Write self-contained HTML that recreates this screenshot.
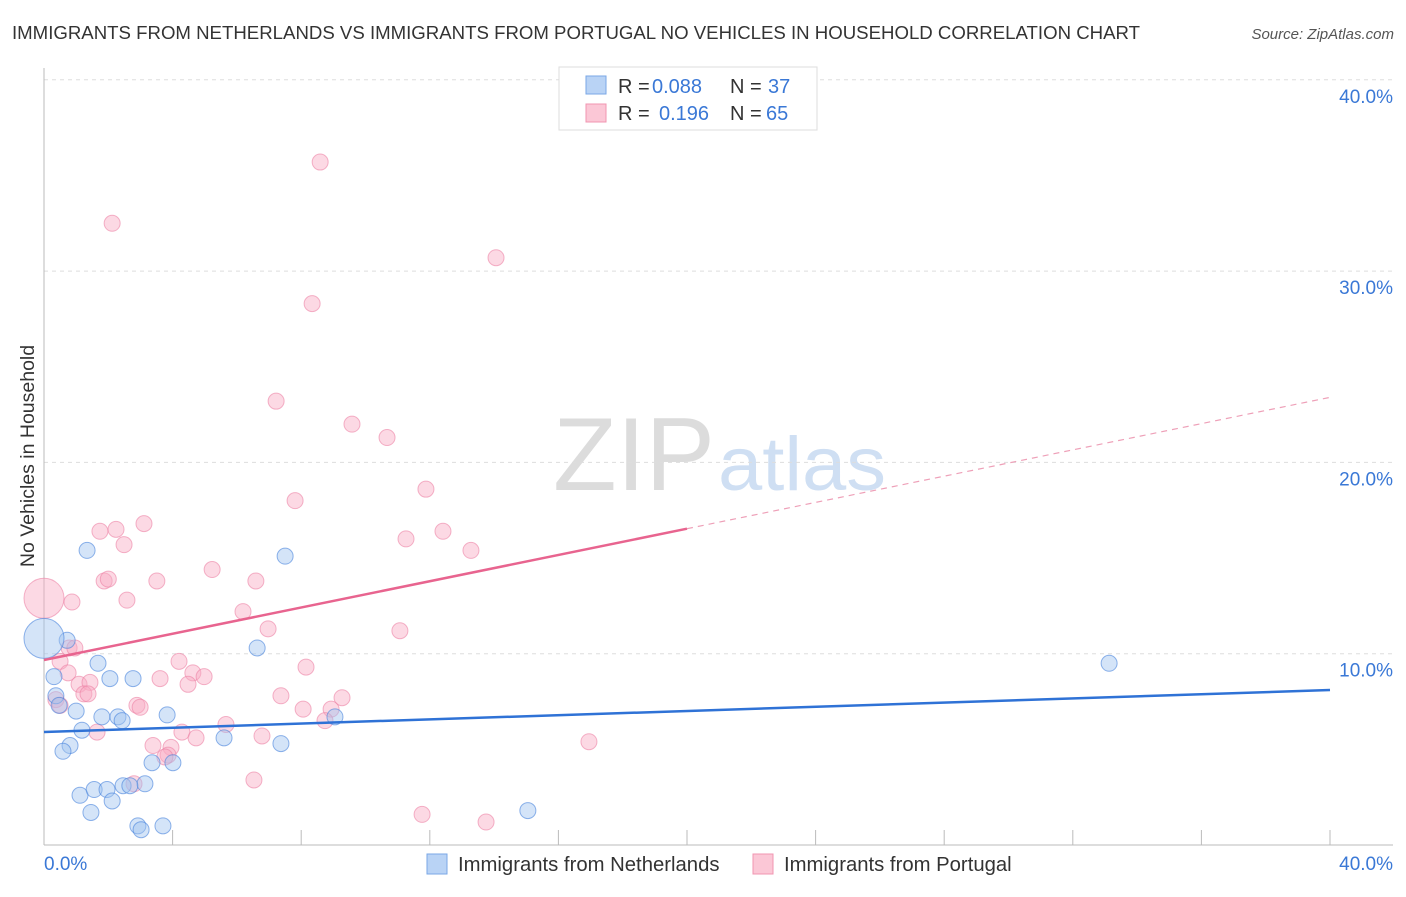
<!DOCTYPE html>
<html><head><meta charset="utf-8"><style>
body{margin:0;background:#fff;font-family:"Liberation Sans",sans-serif;}
svg text{font-family:"Liberation Sans",sans-serif;}
</style></head><body>
<svg id="chart" width="1406" height="892">
<text x="12" y="39" font-size="18" fill="#333" textLength="1128" lengthAdjust="spacingAndGlyphs">IMMIGRANTS FROM NETHERLANDS VS IMMIGRANTS FROM PORTUGAL NO VEHICLES IN HOUSEHOLD CORRELATION CHART</text>
<text x="1394" y="39" font-size="15" fill="#555" font-style="italic" text-anchor="end">Source: ZipAtlas.com</text>
<text x="553" y="490" font-size="104" fill="#dcdcdc" font-family="Liberation Serif" textLength="162" lengthAdjust="spacingAndGlyphs">ZIP</text>
<text x="718" y="490" font-size="76" fill="#cfdff3" textLength="168" lengthAdjust="spacingAndGlyphs">atlas</text>
<text x="34" y="456" font-size="19.5" fill="#333" text-anchor="middle" transform="rotate(-90 34 456)">No Vehicles in Household</text>
<g id="grid"></g><g id="pts"></g><g id="lines"></g>
<g>
<rect x="559" y="67" width="258" height="63" fill="#fff" stroke="#ddd"/>
<rect x="586" y="76" width="20" height="18" fill="#b9d3f5" stroke="#7aa7e6"/>
<rect x="586" y="104" width="20" height="18" fill="#fbc7d6" stroke="#f095b0"/>
<text x="618" y="93" font-size="20" fill="#333">R =</text>
<text x="652" y="93" font-size="20" fill="#3a78d6">0.088</text>
<text x="730" y="93" font-size="20" fill="#333">N =</text>
<text x="768" y="93" font-size="20" fill="#3a78d6">37</text>
<text x="618" y="120" font-size="20" fill="#333">R =</text>
<text x="659" y="120" font-size="20" fill="#3a78d6">0.196</text>
<text x="730" y="120" font-size="20" fill="#333">N =</text>
<text x="766" y="120" font-size="20" fill="#3a78d6">65</text>
</g>
<g>
<rect x="427" y="854" width="20" height="20" fill="#b9d3f5" stroke="#7aa7e6"/>
<text x="458" y="871" font-size="20.3" fill="#333">Immigrants from Netherlands</text>
<rect x="753" y="854" width="20" height="20" fill="#fbc7d6" stroke="#f095b0"/>
<text x="784" y="871" font-size="20.3" fill="#333">Immigrants from Portugal</text>
</g>
</svg>
<script>
const yTicks=[10,20,30,40];
const xTickLabels=["0.0%","40.0%"];
const nlX=[1.34,7.50,0.72,0,1.68,2.05,2.77,0.31,0.37,0.47,1.0,1.80,2.30,2.43,3.83,6.63,9.05,5.60,7.37,1.18,0.81,0.59,3.36,4.01,1.12,1.56,1.96,2.46,3.14,2.12,1.46,2.92,3.02,3.70,33.13,15.05,2.67];
const nlY=[15.4,15.1,10.7,10.8,9.5,8.7,8.7,8.8,7.8,7.3,7.0,6.7,6.7,6.5,6.8,10.3,6.7,5.6,5.3,6.0,5.2,4.9,4.3,4.3,2.6,2.9,2.9,3.1,3.2,2.3,1.7,1.0,0.8,1.0,9.5,1.8,3.1];
const nlR=[8,8,8,20,8,8,8,8,8,8,8,8,8,8,8,8,8,8,8,8,8,8,8,8,8,8,8,8,8,8,8,8,8,8,8,8,8];
const ptX=[0,0.87,0.78,0.96,0.5,0.75,1.09,1.43,0.37,0.5,1.24,1.37,1.65,1.74,2.24,3.11,2.49,1.87,2.0,2.58,3.51,2.12,8.59,14.06,8.34,7.22,9.58,10.67,11.88,7.81,11.26,12.41,13.28,5.23,6.59,6.19,6.97,11.07,4.2,8.15,4.63,4.98,3.61,4.48,7.37,8.06,9.27,8.93,2.89,2.99,5.66,4.29,4.73,6.78,8.74,3.39,3.95,3.86,3.76,6.53,2.8,16.95,11.76,13.75];
const ptY=[12.9,12.7,10.3,10.3,9.6,9.0,8.4,8.5,7.6,7.3,7.9,7.9,5.9,16.4,16.5,16.8,15.7,13.8,13.9,12.8,13.8,32.5,35.7,30.7,28.3,23.2,22.0,21.3,18.6,18.0,16.0,16.4,15.4,14.4,13.8,12.2,11.3,11.2,9.6,9.3,9.0,8.8,8.7,8.4,7.8,7.1,7.7,7.1,7.3,7.2,6.3,5.9,5.6,5.7,6.5,5.2,5.1,4.7,4.6,3.4,3.2,5.4,1.6,1.2];
const ptR=[20,8,8,8,8,8,8,8,8,8,8,8,8,8,8,8,8,8,8,8,8,8,8,8,8,8,8,8,8,8,8,8,8,8,8,8,8,8,8,8,8,8,8,8,8,8,8,8,8,8,8,8,8,8,8,8,8,8,8,8,8,8,8,8];
const nlTrend=[5.91,8.10];
const ptTrend=[9.67,23.4];
const X=v=>44+v/40*1286, Y=v=>845-v*19.13;
const NS="http://www.w3.org/2000/svg";
function mk(tag,attrs,parent){const e=document.createElementNS(NS,tag);for(const k in attrs)e.setAttribute(k,attrs[k]);parent.appendChild(e);return e;}
const grid=document.getElementById('grid');
yTicks.forEach(t=>{
 const l=mk('line',{x1:44,x2:1393,y1:Y(t),y2:Y(t),stroke:'#ddd','stroke-dasharray':'4,4'},grid);
 
 
 const tx=mk('text',{x:1393,y:Y(t)+23,'font-size':19,fill:'#3a78d6','text-anchor':'end'},grid);
 tx.textContent=t.toFixed(1)+'%';
 
 
});
const ax=mk('line',{x1:44,x2:44,y1:68,y2:845,stroke:'#bbb'},grid);


const bx=mk('line',{x1:44,x2:1393,y1:845,y2:845,stroke:'#bbb'},grid);


for(let i=0;i<=10;i++){const v=i*4;const t=mk('line',{x1:X(v),x2:X(v),y1:830,y2:845,stroke:'#bbb'},grid);
 
 }
[[0,'start',44],[40,'end',1393]].forEach((d,i)=>{const t=mk('text',{x:d[2],y:870,'font-size':19,fill:'#3a78d6','text-anchor':d[1]},grid);t.textContent=xTickLabels[i];
 
 });
const pts=document.getElementById('pts');
ptX.forEach((v,i)=>{const c=mk('circle',{cx:X(v),cy:Y(ptY[i]),r:ptR[i],fill:'rgba(248,170,195,0.45)',stroke:'rgba(236,130,165,0.6)','stroke-width':1},pts);
 
 });
nlX.forEach((v,i)=>{const c=mk('circle',{cx:X(v),cy:Y(nlY[i]),r:nlR[i],fill:'rgba(160,195,240,0.45)',stroke:'rgba(70,130,220,0.6)','stroke-width':1},pts);
 
 });
const lines=document.getElementById('lines');
const b=mk('line',{x1:X(0),y1:Y(nlTrend[0]),x2:X(40),y2:Y(nlTrend[1]),stroke:'#2f72d6','stroke-width':2.5},lines);


const pm=ptTrend[0]+(ptTrend[1]-ptTrend[0])/2;
const p1=mk('line',{x1:X(0),y1:Y(ptTrend[0]),x2:X(20),y2:Y(pm),stroke:'#e8648f','stroke-width':2.5},lines);


const p2=mk('line',{x1:X(20),y1:Y(pm),x2:X(40),y2:Y(ptTrend[1]),stroke:'#eea0b8','stroke-width':1.2,'stroke-dasharray':'6,5'},lines);


</script>
</body></html>
